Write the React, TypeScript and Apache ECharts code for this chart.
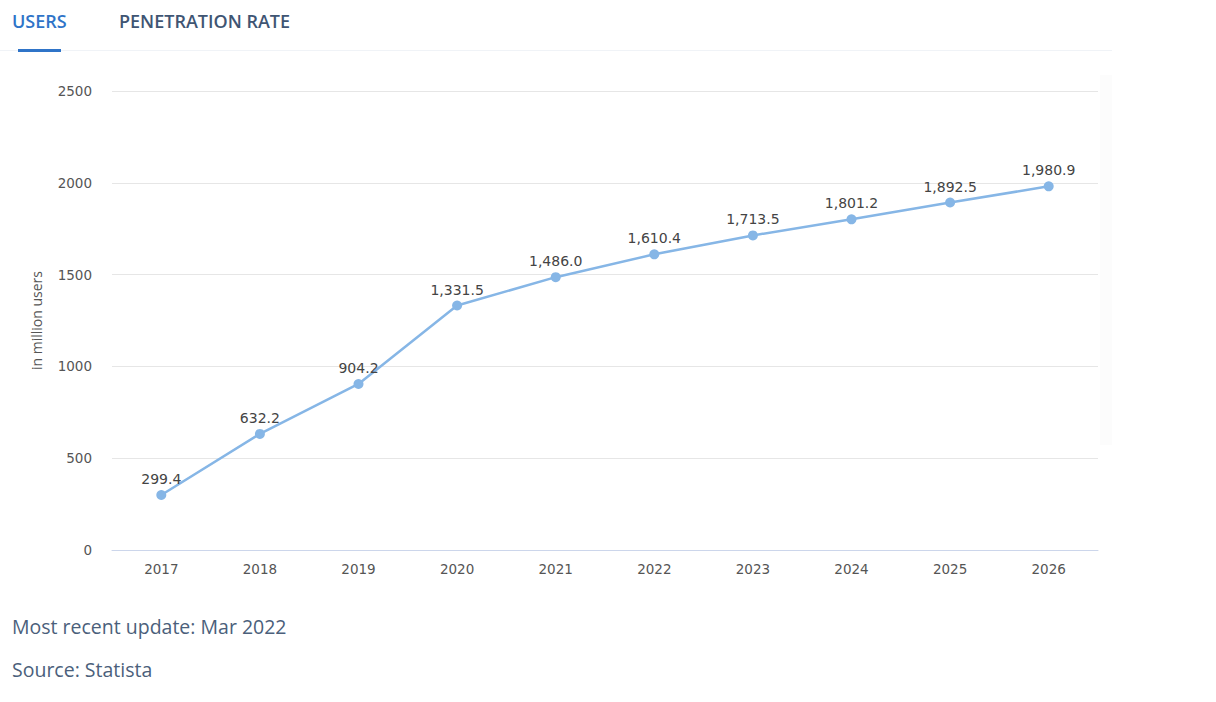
import React, { useEffect, useRef } from "react";
import * as echarts from "echarts";

const years = ["2017", "2018", "2019", "2020", "2021", "2022", "2023", "2024", "2025", "2026"];
const users = [299.4, 632.2, 904.2, 1331.5, 1486.0, 1610.4, 1713.5, 1801.2, 1892.5, 1980.9];
const tabs = ["USERS", "PENETRATION RATE"];
const footer = ["Most recent update: Mar 2022", "Source: Statista"];
const yAxisName = "in million users";

export default function App() {
  const ref = useRef<HTMLDivElement>(null);
  useEffect(() => {
    document.body.style.margin = "0";
    const chart = echarts.init(ref.current!, null, { renderer: "svg" });
    const font = "'Open Sans', 'Noto Sans', sans-serif";
    const numFont = "'DejaVu Sans', sans-serif";
    chart.setOption({
      animation: false,
      backgroundColor: "#ffffff",
      textStyle: { fontFamily: font },
      grid: { left: 112, right: 118, top: 91, bottom: 152, containLabel: false },
      xAxis: {
        type: "category",
        data: years,
        boundaryGap: true,
        axisLine: { lineStyle: { color: "#ccd6eb", width: 1 } },
        axisTick: { show: false },
        axisLabel: { color: "#555555", fontSize: 13.5, margin: 12, fontFamily: numFont },
      },
      yAxis: {
        type: "value",
        min: 0,
        max: 2500,
        interval: 500,
        name: yAxisName,
        nameLocation: "middle",
        nameGap: 69,
        nameRotate: 90,
        nameTextStyle: { color: "#555555", fontSize: 14, fontFamily: font },
        axisLine: { show: false },
        axisTick: { show: false },
        axisLabel: {
          color: "#555555",
          fontSize: 13.5,
          margin: 20,
          fontFamily: numFont,
          formatter: (v: number) => String(v),
        },
        splitLine: { lineStyle: { color: "#e6e6e6", width: 1 } },
      },
      series: [
        {
          type: "line",
          data: users,
          symbol: "circle",
          symbolSize: 10,
          lineStyle: { color: "#86b6e6", width: 2.5 },
          itemStyle: { color: "#86b6e6" },
          label: {
            show: true,
            position: "top",
            distance: 4,
            color: "#444444",
            fontSize: 14,
            fontFamily: numFont,
            formatter: (p: any) =>
              p.value.toLocaleString("en-US", { minimumFractionDigits: 1, maximumFractionDigits: 1 }),
          },
        },
      ],
      graphic: [
        {
          type: "text",
          left: 12,
          top: 12,
          style: { text: tabs[0], fill: "#2f74c8", fontSize: 18, fontWeight: 600, fontFamily: font },
        },
        {
          type: "text",
          left: 119,
          top: 12,
          style: { text: tabs[1], fill: "#3f5573", fontSize: 18, fontWeight: 600, fontFamily: font },
        },
        {
          type: "rect",
          shape: { x: 0, y: 50, width: 1112, height: 1 },
          style: { fill: "#f0f3f7" },
        },
        {
          type: "rect",
          shape: { x: 18, y: 49, width: 43, height: 3 },
          style: { fill: "#2f74c8" },
        },
        {
          type: "rect",
          shape: { x: 1100, y: 75, width: 12, height: 370 },
          style: { fill: "#fcfcfc" },
        },
        {
          type: "text",
          left: 12,
          top: 616,
          style: { text: footer[0], fill: "#4b5f7b", fontSize: 19.5, fontFamily: font },
        },
        {
          type: "text",
          left: 12,
          top: 659,
          style: { text: footer[1], fill: "#4b5f7b", fontSize: 19.5, fontFamily: font },
        },
      ],
    });
    return () => chart.dispose();
  }, []);
  return <div ref={ref} style={{ width: 1216, height: 702 }} />;
}
